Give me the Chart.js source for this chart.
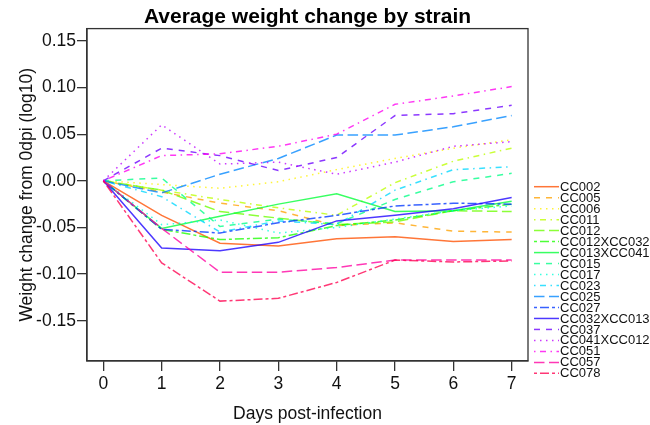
<!DOCTYPE html>
<html>
<head>
<meta charset="utf-8">
<script src="https://cdn.jsdelivr.net/npm/chart.js@4.4.1/dist/chart.umd.min.js"></script>
<style>
  html, body { margin: 0; padding: 0; background: #fff; }
  canvas { display: block; }
</style>
</head>
<body>
<canvas id="myChart" width="650" height="425"></canvas>
<script>
// days post-infection (x) and tick labels
var days = [0, 1, 2, 3, 4, 5, 6, 7];
var xTicks = [0, 1, 2, 3, 4, 5, 6, 7];
var yTicks = [-0.15, -0.10, -0.05, 0.00, 0.05, 0.10, 0.15];

var strains = ["CC002", "CC005", "CC006", "CC011", "CC012", "CC012XCC032", "CC013XCC041",
    "CC015", "CC017", "CC023", "CC025", "CC027", "CC032XCC013", "CC037", "CC041XCC012",
    "CC051", "CC057", "CC078"];

// mean log10 weight change from 0dpi, one array per strain
var cc002 = [0, -0.037, -0.067, -0.070, -0.062, -0.060, -0.065, -0.063];
var cc005 = [0, -0.012, -0.024, -0.032, -0.048, -0.045, -0.054, -0.055];
var cc006 = [0, -0.004, -0.008, -0.001, 0.012, 0.024, 0.035, 0.044];
var cc011 = [0, -0.010, -0.020, -0.029, -0.037, -0.002, 0.021, 0.035];
var cc012 = [0, -0.010, -0.033, -0.040, -0.047, -0.044, -0.032, -0.033];
var cc012x032 = [0, -0.052, -0.063, -0.061, -0.048, -0.042, -0.032, -0.025];
var cc013x041 = [0, -0.051, -0.038, -0.025, -0.014, -0.033, -0.032, -0.022];
var cc015 = [0, 0.003, -0.049, -0.041, -0.046, -0.020, -0.001, 0.008];
var cc017 = [0, -0.047, -0.042, -0.056, -0.050, -0.041, -0.032, -0.027];
var cc023 = [0, -0.017, -0.055, -0.043, -0.047, -0.010, 0.012, 0.015];
var cc025 = [0, -0.013, 0.007, 0.024, 0.049, 0.049, 0.058, 0.070];
var cc027 = [0, -0.052, -0.056, -0.045, -0.037, -0.027, -0.024, -0.025];
var cc032x013 = [0, -0.072, -0.075, -0.066, -0.043, -0.037, -0.030, -0.018];
var cc037 = [0, 0.035, 0.027, 0.011, 0.025, 0.070, 0.072, 0.081];
var cc041x012 = [0, 0.060, 0.018, 0.020, 0.007, 0.020, 0.037, 0.042];
var cc051 = [0, 0.027, 0.029, 0.037, 0.050, 0.082, 0.091, 0.101];
var cc057 = [0, -0.051, -0.098, -0.098, -0.093, -0.085, -0.085, -0.085];
var cc078 = [0, -0.088, -0.129, -0.126, -0.109, -0.085, -0.087, -0.086];

var series = [cc002, cc005, cc006, cc011, cc012, cc012x032, cc013x041, cc015, cc017,
    cc023, cc025, cc027, cc032x013, cc037, cc041x012, cc051, cc057, cc078];

// R style line types (lty 1..6), cycled
var dashes = [[], [6, 6], [1.5, 4.5], [1.5, 4.5, 6, 4.5], [10.5, 4.5], [3, 3, 9, 3]];

var FONT = "'Liberation Sans', Arial, sans-serif";
var ylim = [-0.18, 0.15];
var yPad = (ylim[1] - ylim[0]) * 0.04;
var xPad = (days[days.length - 1] - days[0]) * 0.04;

function rainbowColor(i) {
    var hue = 360 * (i + 1) / (strains.length + 1);
    return 'hsla(' + hue.toFixed(1) + ', 100%, 50%, 0.78)';
}

var datasets = strains.map(function (name, i) {
    return {
        label: name,
        data: days.map(function (d, j) { return { x: d, y: series[i][j] }; }),
        borderColor: rainbowColor(i),
        backgroundColor: rainbowColor(i),
        borderWidth: 1.5,
        borderDash: dashes[i % dashes.length],
        pointRadius: 0,
        tension: 0,
        fill: false,
        order: strains.length - i
    };
});

// box around plot area + legend on the right
var boxAndLegend = {
    id: 'boxAndLegend',
    afterDraw: function (chart) {
        var ctx = chart.ctx;
        var a = chart.chartArea;
        ctx.save();
        ctx.strokeStyle = '#333';
        ctx.lineWidth = 1.3;
        ctx.strokeRect(a.left, a.top, a.right - a.left, a.bottom - a.top);

        ctx.font = '13px ' + FONT;
        ctx.textBaseline = 'middle';
        ctx.textAlign = 'left';
        chart.data.datasets.forEach(function (ds, i) {
            var y = 186.7 + i * 10.98;
            ctx.strokeStyle = ds.borderColor;
            ctx.lineWidth = 1.5;
            ctx.setLineDash(ds.borderDash);
            ctx.beginPath();
            ctx.moveTo(534, y);
            ctx.lineTo(559, y);
            ctx.stroke();
            ctx.setLineDash([]);
            ctx.fillStyle = '#111';
            ctx.fillText(ds.label, 560, y + 0.5);
        });
        ctx.restore();
    }
};

var ctx = document.getElementById('myChart').getContext('2d');
var myChart = new Chart(ctx, {
    type: 'line',
    data: { datasets: datasets },
    plugins: [boxAndLegend],
    options: {
        responsive: false,
        animation: false,
        layout: { padding: { left: 0, right: 122, top: 0, bottom: 0 } },
        plugins: {
            legend: { display: false },
            tooltip: { enabled: false },
            title: {
                display: true,
                fullSize: false,
                text: 'Average weight change by strain',
                color: '#000',
                font: { family: FONT, size: 21, weight: 'bold', lineHeight: 1.1 },
                padding: { top: 5.5, bottom: 0 }
            }
        },
        scales: {
            x: {
                type: 'linear',
                min: days[0] - xPad,
                max: days[days.length - 1] + xPad,
                afterBuildTicks: function (axis) {
                    axis.ticks = xTicks.map(function (v) { return { value: v }; });
                },
                afterFit: function (axis) { axis.height = 64; },
                grid: { display: true, drawOnChartArea: false, drawTicks: true, tickLength: 10, color: '#333', lineWidth: 1.3 },
                border: { display: true, color: '#333', width: 1.3 },
                ticks: {
                    color: '#111',
                    padding: 3,
                    maxRotation: 0,
                    autoSkip: false,
                    font: { family: FONT, size: 17.5 },
                    callback: function (v) { return String(v); }
                },
                title: {
                    display: true,
                    text: 'Days post-infection',
                    color: '#111',
                    font: { family: FONT, size: 17.5 },
                    padding: { top: 0, bottom: 0.5 }
                }
            },
            y: {
                min: ylim[0] - yPad,
                max: ylim[1] + yPad,
                afterBuildTicks: function (axis) {
                    axis.ticks = yTicks.map(function (v) { return { value: v }; });
                },
                afterFit: function (axis) { axis.width = 87; },
                grid: { display: true, drawOnChartArea: false, drawTicks: true, tickLength: 10, color: '#333', lineWidth: 1.3 },
                border: { display: true, color: '#333', width: 1.3 },
                ticks: {
                    color: '#111',
                    padding: 1,
                    autoSkip: false,
                    font: { family: FONT, size: 17.5 },
                    callback: function (v) { return v.toFixed(2); }
                },
                title: {
                    display: true,
                    text: 'Weight change from 0dpi (log10)',
                    color: '#111',
                    font: { family: FONT, size: 17.5 },
                    padding: { top: 16.5, bottom: 0 }
                }
            }
        }
    }
});
</script>
</body>
</html>
